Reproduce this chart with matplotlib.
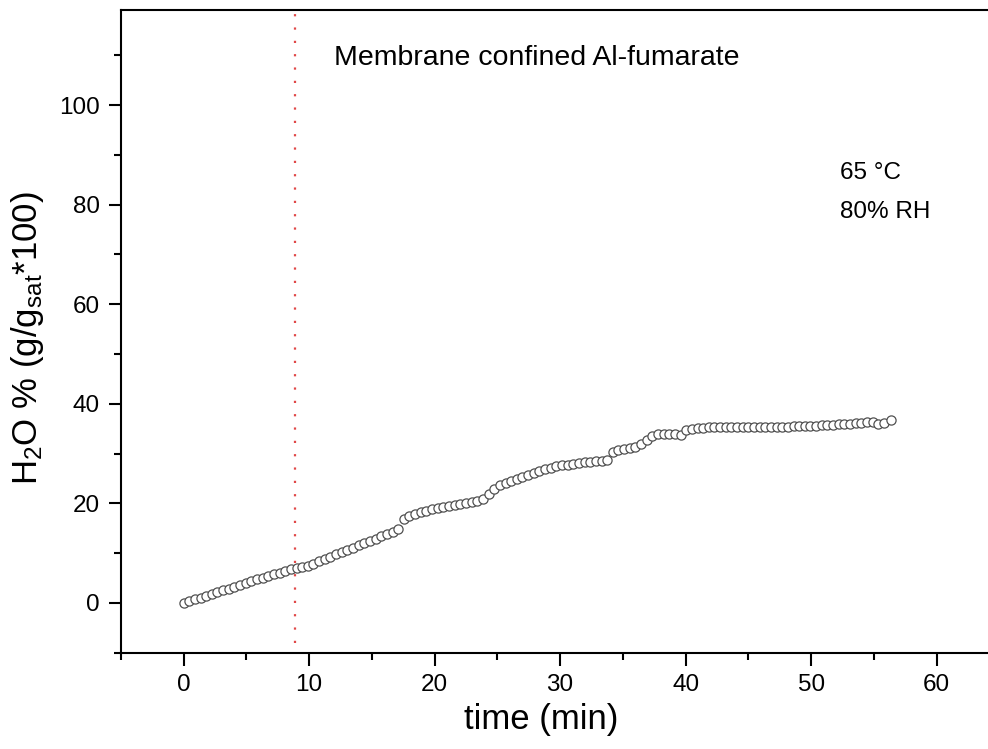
import matplotlib
matplotlib.use("Agg")
import matplotlib.pyplot as plt
from matplotlib.ticker import MultipleLocator

plt.rcParams['font.family'] = ['Liberation Sans', 'DejaVu Sans']
plt.rcParams['mathtext.default'] = 'regular'

# water uptake of the membrane confined Al-fumarate, 65 C / 80% RH
time_min = [0.0, 0.45, 0.9, 1.35, 1.8, 2.25, 2.7, 3.15, 3.6, 4.05,
            4.5, 4.95, 5.4, 5.85, 6.3, 6.75, 7.2, 7.65, 8.1, 8.55,
            9.0, 9.45, 9.9, 10.35, 10.8, 11.25, 11.7, 12.15, 12.6, 13.05,
            13.5, 13.95, 14.4, 14.85, 15.3, 15.75, 16.2, 16.65, 17.1, 17.55,
            18.0, 18.45, 18.9, 19.35, 19.8, 20.25, 20.7, 21.15, 21.6, 22.05,
            22.5, 22.95, 23.4, 23.85, 24.3, 24.75, 25.2, 25.65, 26.1, 26.55,
            27.0, 27.45, 27.9, 28.35, 28.8, 29.25, 29.7, 30.15, 30.6, 31.05,
            31.5, 31.95, 32.4, 32.85, 33.3, 33.75, 34.2, 34.65, 35.1, 35.55,
            36.0, 36.45, 36.9, 37.35, 37.8, 38.25, 38.7, 39.15, 39.6, 40.05,
            40.5, 40.95, 41.4, 41.85, 42.3, 42.75, 43.2, 43.65, 44.1, 44.55,
            45.0, 45.45, 45.9, 46.35, 46.8, 47.25, 47.7, 48.15, 48.6, 49.05,
            49.5, 49.95, 50.4, 50.85, 51.3, 51.75, 52.2, 52.65, 53.1, 53.55,
            54.0, 54.45, 54.9, 55.35, 55.8, 56.4]
h2o_pct = [0.0, 0.3, 0.7, 1.0, 1.4, 1.8, 2.1, 2.5, 2.8, 3.2,
           3.6, 3.9, 4.3, 4.7, 5.0, 5.4, 5.8, 6.1, 6.5, 6.8,
           7.1, 7.3, 7.5, 7.9, 8.4, 8.9, 9.3, 9.8, 10.2, 10.7,
           11.1, 11.6, 12.0, 12.5, 12.9, 13.4, 13.8, 14.3, 14.8, 16.8,
           17.4, 17.9, 18.3, 18.5, 18.8, 19.1, 19.3, 19.5, 19.7, 19.9,
           20.1, 20.3, 20.5, 20.8, 21.8, 22.8, 23.6, 24.1, 24.5, 24.9,
           25.3, 25.7, 26.0, 26.4, 26.8, 27.1, 27.4, 27.6, 27.8, 28.0,
           28.2, 28.3, 28.4, 28.5, 28.6, 28.8, 30.3, 30.8, 31.0, 31.2,
           31.4, 32.0, 32.7, 33.5, 33.9, 34.0, 34.0, 33.9, 33.8, 34.8,
           35.0, 35.1, 35.2, 35.3, 35.3, 35.3, 35.4, 35.3, 35.3, 35.4,
           35.3, 35.3, 35.4, 35.3, 35.3, 35.4, 35.4, 35.4, 35.6, 35.5,
           35.5, 35.6, 35.6, 35.7, 35.7, 35.8, 35.9, 36.0, 36.0, 36.1,
           36.2, 36.3, 36.4, 35.9, 36.2, 36.8]
t_marker = 8.85

fig = plt.figure(figsize=(9.88, 7.49), dpi=100)
ax = fig.add_axes([0.1223, 0.1286, 0.8892, 0.8574])

ax.plot(time_min, h2o_pct, linestyle='none', marker='o', markersize=6.6,
        markerfacecolor='white', markeredgecolor='#505050', markeredgewidth=0.9,
        zorder=3)
ax.plot([t_marker, t_marker], [-8, 119], color='#e04848', linewidth=1.6,
        linestyle=(0, (1, 5)), zorder=2)

ax.set_xlim(-5, 65)
ax.set_ylim(-10, 119)
ax.xaxis.set_major_locator(MultipleLocator(10))
ax.xaxis.set_minor_locator(MultipleLocator(5))
ax.set_yticks([0, 20, 40, 60, 80, 100])
ax.yaxis.set_minor_locator(MultipleLocator(10))

for side in ['left', 'bottom', 'top', 'right']:
    ax.spines[side].set_linewidth(1.5)
ax.tick_params(which='major', direction='out', length=9, width=1.5,
               labelsize=17.5, pad=6)
ax.tick_params(which='minor', direction='out', length=5, width=1.5)
ax.tick_params(top=False, right=False)

ax.set_xlabel('time (min)', fontsize=25)
ax.xaxis.set_label_coords(0.478, -0.079)
ax.set_ylabel(r'H$_2$O % (g/g$_{sat}$*100)', fontsize=25)
ax.yaxis.set_label_coords(-0.085, 0.49)

ax.text(11.95, 109.5, 'Membrane confined Al-fumarate', fontsize=20.5,
        ha='left', va='center')
ax.text(52.3, 86.4, '65 °C', fontsize=17.5, ha='left', va='center')
ax.text(52.3, 78.6, '80% RH', fontsize=17.5, ha='left', va='center')

fig.savefig('out.png', dpi=100)
